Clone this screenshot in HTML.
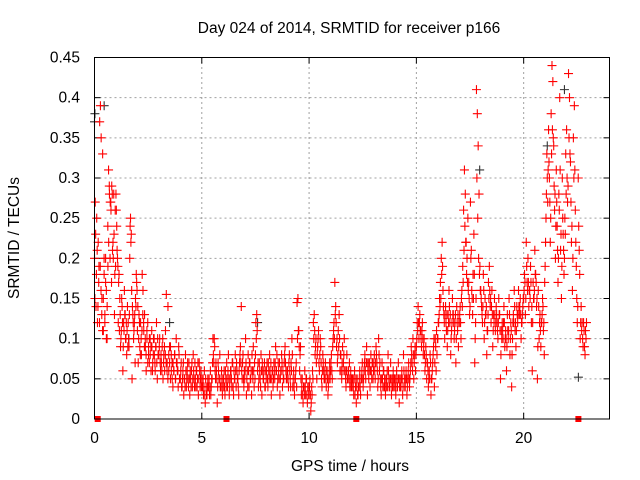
<!DOCTYPE html>
<html><head><meta charset="utf-8"><style>
body{margin:0;background:#fff}
svg{display:block;font-family:"Liberation Sans",sans-serif}
</style></head><body>
<svg id="chart" width="640" height="480">
<rect width="640" height="480" fill="#fff"/>
<text x="349" y="33" font-size="15.5" text-anchor="middle" fill="#000">Day 024 of 2014, SRMTID for receiver p166</text>
<text x="350" y="471" font-size="15.5" text-anchor="middle" fill="#000">GPS time / hours</text>
<text transform="translate(19,238) rotate(-90)" font-size="15.5" text-anchor="middle" fill="#000">SRMTID / TECUs</text>
<g id="grid"></g>
<g id="ticks"></g>
<g id="marks"></g>
<rect x="94.5" y="57.5" width="515" height="361.5" fill="none" stroke="#000" stroke-width="1"/>
</svg>
<script>
const xTicks=[0,5,10,15,20];
const yTicks=[0,0.05,0.1,0.15,0.2,0.25,0.3,0.35,0.4,0.45];
const yTickLabels=["0","0.05","0.1","0.15","0.2","0.25","0.3","0.35","0.4","0.45"];
const hourStarts=[0,1,2,3,4,5,6,7,8,9,10,11,12,13,14,15,16,17,18,19,20,21,22];
const h0=[0.2,0.27,0.14,0.25,0.12,0.22,0.19,0.37,0.39,0.35,0.15,0.33,0.11,0.18,0.13,0.2,0.16,0.1,0.24,0.31,0.29,0.2,0.27,0.17,0.28,0.22,0.28,0.13,0.26];
const h1=[0.28,0.24,0.2,0.12,0.18,0.15,0.09,0.11,0.14,0.06,0.12,0.16,0.13,0.1,0.08,0.14,0.12,0.09,0.2,0.25,0.23,0.05,0.13,0.1,0.12,0.07,0.14,0.17];
const h2=[0.11,0.07,0.13,0.09,0.12,0.08,0.18,0.16,0.11,0.13,0.09,0.06,0.1,0.12,0.08,0.07,0.1,0.09,0.11,0.06,0.08,0.1,0.07,0.09,0.12,0.05,0.08];
const h3=[0.08,0.1,0.06,0.07,0.09,0.05,0.08,0.06,0.11,0.155,0.07,0.14,0.06,0.09,0.05,0.08,0.07,0.04,0.06,0.08,0.05,0.1,0.07,0.06,0.09,0.05];
const h4=[0.05,0.07,0.04,0.06,0.03,0.05,0.08,0.04,0.06,0.05,0.07,0.03,0.05,0.06,0.04,0.08,0.05,0.07,0.04,0.06,0.05,0.03,0.07,0.04,0.06];
const h5=[0.05,0.04,0.03,0.06,0.02,0.04,0.03,0.05,0.04,0.03,0.06,0.04,0.05,0.1,0.07,0.09,0.05,0.06,0.02,0.07,0.05,0.08,0.04,0.06,0.03];
const h6=[0.04,0.06,0.03,0.05,0.07,0.04,0.08,0.03,0.05,0.06,0.04,0.07,0.03,0.05,0.08,0.04,0.06,0.05,0.03,0.07,0.09,0.14,0.05,0.08,0.04];
const h7=[0.05,0.1,0.03,0.06,0.08,0.04,0.07,0.05,0.03,0.06,0.09,0.04,0.05,0.12,0.13,0.06,0.04,0.07,0.05,0.08,0.03,0.06,0.05,0.07,0.04];
const h8=[0.05,0.07,0.04,0.06,0.08,0.05,0.03,0.06,0.04,0.07,0.05,0.09,0.06,0.04,0.07,0.05,0.03,0.06,0.08,0.04,0.05,0.07,0.09,0.06,0.05];
const h9=[0.06,0.04,0.08,0.05,0.07,0.1,0.04,0.06,0.03,0.05,0.07,0.145,0.15,0.11,0.06,0.09,0.03,0.05,0.02,0.04,0.06,0.03,0.05,0.02,0.04];
const h10=[0.03,0.05,0.01,0.04,0.06,0.12,0.13,0.08,0.1,0.05,0.09,0.11,0.06,0.1,0.07,0.04,0.08,0.06,0.05,0.07,0.04,0.06,0.03,0.05,0.07];
const h11=[0.06,0.08,0.05,0.1,0.12,0.17,0.14,0.09,0.07,0.11,0.13,0.06,0.08,0.05,0.09,0.07,0.1,0.06,0.04,0.08,0.05,0.06,0.07,0.05,0.04];
const h12=[0.04,0.05,0.03,0.06,0.04,0.02,0.05,0.03,0.04,0.06,0.03,0.05,0.07,0.04,0.06,0.08,0.05,0.09,0.03,0.07,0.06,0.04,0.08,0.05,0.07];
const h13=[0.06,0.08,0.05,0.09,0.07,0.04,0.1,0.06,0.05,0.03,0.07,0.04,0.06,0.05,0.03,0.04,0.06,0.08,0.05,0.04,0.07,0.03,0.05,0.06,0.04];
const h14=[0.05,0.03,0.06,0.04,0.07,0.02,0.05,0.04,0.06,0.03,0.08,0.05,0.04,0.06,0.03,0.05,0.07,0.04,0.06,0.09,0.07,0.1,0.05,0.08,0.06];
const h15=[0.09,0.12,0.14,0.1,0.13,0.11,0.09,0.12,0.08,0.1,0.06,0.09,0.05,0.07,0.04,0.06,0.08,0.03,0.05,0.07,0.09,0.04,0.1,0.06,0.08];
const h16=[0.1,0.12,0.15,0.17,0.2,0.22,0.16,0.13,0.1,0.14,0.11,0.09,0.13,0.16,0.12,0.08,0.11,0.15,0.13,0.1,0.12,0.07,0.14,0.11,0.09];
const h17=[0.12,0.14,0.1,0.16,0.19,0.26,0.31,0.28,0.22,0.2,0.25,0.17,0.13,0.27,0.21,0.15,0.18,0.23,0.07,0.12,0.41,0.38,0.34,0.28,0.19];
const h18=[0.16,0.14,0.12,0.18,0.1,0.15,0.13,0.08,0.11,0.17,0.19,0.14,0.12,0.16,0.09,0.13,0.15,0.11,0.14,0.12,0.1,0.15,0.13,0.05,0.11];
const h19=[0.12,0.1,0.14,0.09,0.11,0.06,0.13,0.1,0.15,0.08,0.12,0.04,0.1,0.13,0.16,0.11,0.09,0.14,0.12,0.16,0.13,0.15,0.1,0.12,0.14];
const h20=[0.15,0.18,0.13,0.22,0.17,0.2,0.14,0.16,0.19,0.12,0.06,0.17,0.15,0.21,0.18,0.14,0.05,0.16,0.1,0.13,0.09,0.12,0.15,0.11,0.08];
const h21=[0.19,0.25,0.33,0.27,0.36,0.3,0.22,0.38,0.44,0.42,0.34,0.26,0.2,0.31,0.24,0.17,0.28,0.4,0.21,0.15,0.3,0.23,0.18,0.25,0.33];
const h22=[0.36,0.27,0.43,0.4,0.32,0.22,0.16,0.35,0.39,0.26,0.19,0.12,0.3,0.21,0.1,0.14,0.12,0.09,0.11,0.08,0.1];
// second pass of samples (offset half-step in time)
const b0=[0.15,0.23,0.18,0.21,0.14,0.17,0.12,0.19,0.16,0.13,0.11,0.15,0.2,0.12,0.17,0.1,0.14,0.19,0.22,0.28,0.27,0.26,0.29,0.21,0.2,0.23,0.18,0.19];
const b1=[0.26,0.21,0.19,0.17,0.11,0.13,0.1,0.15,0.12,0.09,0.11,0.13,0.1,0.12,0.11,0.09,0.1,0.13,0.24,0.22,0.16,0.14,0.12,0.11,0.13,0.15,0.18,0.16];
const b2=[0.14,0.1,0.12,0.08,0.1,0.11,0.13,0.12,0.09,0.1,0.08,0.11,0.07,0.09,0.1,0.08,0.06,0.09,0.07,0.1,0.08,0.06,0.09,0.07,0.1,0.08];
const b3=[0.09,0.07,0.08,0.06,0.1,0.07,0.09,0.08,0.07,0.06,0.05,0.08,0.07,0.09,0.06,0.05,0.07,0.06,0.08,0.05,0.07,0.06,0.04,0.08,0.05];
const b4=[0.06,0.04,0.05,0.07,0.05,0.04,0.06,0.05,0.07,0.04,0.05,0.06,0.04,0.07,0.05,0.06,0.04,0.05,0.06,0.04,0.07,0.05,0.06,0.05,0.04];
const b5=[0.04,0.05,0.04,0.03,0.05,0.03,0.04,0.04,0.05,0.04,0.03,0.05,0.07,0.08,0.1,0.06,0.07,0.05,0.04,0.06,0.05,0.04,0.05,0.04,0.05];
const b6=[0.05,0.04,0.06,0.04,0.05,0.06,0.05,0.04,0.06,0.05,0.07,0.04,0.06,0.05,0.06,0.07,0.05,0.04,0.06,0.08,0.07,0.06,0.07,0.05,0.06];
const b7=[0.06,0.07,0.05,0.04,0.06,0.07,0.05,0.06,0.08,0.05,0.06,0.07,0.08,0.1,0.11,0.07,0.05,0.06,0.04,0.06,0.07,0.05,0.06,0.04,0.06];
const b8=[0.06,0.05,0.07,0.05,0.06,0.07,0.05,0.06,0.05,0.06,0.07,0.06,0.08,0.05,0.06,0.07,0.05,0.06,0.07,0.06,0.05,0.08,0.07,0.05,0.06];
const b9=[0.05,0.07,0.06,0.04,0.06,0.08,0.05,0.04,0.05,0.06,0.04,0.1,0.11,0.09,0.08,0.05,0.04,0.03,0.04,0.03,0.04,0.05,0.03,0.04,0.03];
const b10=[0.04,0.03,0.02,0.03,0.05,0.1,0.11,0.09,0.07,0.08,0.1,0.07,0.08,0.09,0.05,0.06,0.07,0.05,0.06,0.05,0.06,0.05,0.04,0.06,0.05];
const b11=[0.07,0.06,0.09,0.11,0.1,0.13,0.12,0.1,0.08,0.09,0.1,0.08,0.06,0.07,0.06,0.08,0.06,0.05,0.06,0.05,0.06,0.05,0.04,0.06,0.05];
const b12=[0.05,0.04,0.05,0.03,0.05,0.04,0.03,0.04,0.05,0.04,0.05,0.06,0.05,0.05,0.07,0.06,0.07,0.07,0.06,0.05,0.07,0.06,0.06,0.07,0.05];
const b13=[0.07,0.06,0.07,0.08,0.06,0.05,0.08,0.07,0.04,0.05,0.05,0.06,0.04,0.04,0.05,0.05,0.04,0.06,0.04,0.05,0.05,0.04,0.04,0.05,0.05];
const b14=[0.04,0.05,0.04,0.05,0.05,0.04,0.04,0.05,0.05,0.04,0.06,0.04,0.05,0.05,0.04,0.06,0.05,0.05,0.07,0.08,0.06,0.08,0.07,0.09,0.08];
const b15=[0.1,0.11,0.12,0.12,0.11,0.1,0.11,0.1,0.09,0.08,0.07,0.08,0.07,0.06,0.05,0.05,0.07,0.05,0.06,0.08,0.1,0.07,0.09,0.11,0.1];
const b16=[0.12,0.13,0.14,0.15,0.18,0.19,0.14,0.12,0.13,0.12,0.13,0.11,0.12,0.14,0.13,0.1,0.12,0.13,0.12,0.11,0.13,0.1,0.12,0.13,0.12];
const b17=[0.13,0.12,0.15,0.14,0.17,0.21,0.24,0.22,0.18,0.17,0.16,0.15,0.14,0.2,0.16,0.13,0.15,0.18,0.1,0.15,0.3,0.25,0.2,0.18,0.16];
const b18=[0.15,0.13,0.14,0.16,0.12,0.13,0.14,0.11,0.13,0.15,0.16,0.15,0.14,0.13,0.11,0.12,0.13,0.12,0.13,0.11,0.12,0.13,0.11,0.08,0.1];
const b19=[0.11,0.12,0.12,0.1,0.1,0.09,0.11,0.11,0.13,0.1,0.11,0.08,0.12,0.12,0.14,0.12,0.11,0.13,0.13,0.14,0.14,0.13,0.12,0.13,0.15];
const b20=[0.16,0.17,0.15,0.19,0.16,0.17,0.16,0.15,0.17,0.14,0.12,0.15,0.16,0.18,0.17,0.15,0.09,0.14,0.12,0.11,0.12,0.13,0.14,0.12,0.17];
const b21=[0.22,0.28,0.3,0.31,0.32,0.27,0.25,0.33,0.36,0.35,0.29,0.28,0.24,0.27,0.21,0.2,0.26,0.31,0.23,0.19,0.25,0.21,0.2,0.23,0.28];
const b22=[0.3,0.29,0.35,0.33,0.27,0.24,0.2,0.3,0.31,0.22,0.15,0.14,0.24,0.18,0.12,0.11,0.1,0.12,0.09,0.11,0.12];
const hourValues=[h0,h1,h2,h3,h4,h5,h6,h7,h8,h9,h10,h11,h12,h13,h14,h15,h16,h17,h18,h19,h20,h21,h22];
const hourValuesB=[b0,b1,b2,b3,b4,b5,b6,b7,b8,b9,b10,b11,b12,b13,b14,b15,b16,b17,b18,b19,b20,b21,b22];
const hourSpan=[1,1,1,1,1,1,1,1,1,1,1,1,1,1,1,1,1,1,1,1,1,1,0.95];
const greyTimes=[0.0,0.02,0.45,21.9,22.55,17.95,21.1,1.6,3.5,7.6];
const greyValues=[0.37,0.38,0.39,0.41,0.052,0.31,0.34,0.1,0.12,0.12];
const gapTimes=[0.15,6.15,12.2,22.55];

const X0=94.5,X1=609.5,Y0=419,Y1=57.5,XMAX=24,YMAX=0.45;
const xs=t=>X0+(X1-X0)*t/XMAX;
const ys=v=>Y0-(Y0-Y1)*v/YMAX;
const NS="http://www.w3.org/2000/svg";
function mk(tag,attrs,parent){const e=document.createElementNS(NS,tag);for(const k in attrs)e.setAttribute(k,attrs[k]);parent.appendChild(e);return e;}
const grid=document.getElementById('grid'),ticks=document.getElementById('ticks'),marks=document.getElementById('marks');
xTicks.forEach(t=>{
  const x=xs(t);
  if(t>0){const g=mk('line',{x1:x,x2:x,y1:Y0,y2:Y1,stroke:'#a0a0a0','stroke-dasharray':'2,3'},grid);
  
  }
  mk('line',{x1:x,x2:x,y1:Y0,y2:Y0-6,stroke:'#000'},ticks);
  mk('line',{x1:x,x2:x,y1:Y1,y2:Y1+6,stroke:'#000'},ticks);
  const l=mk('text',{x:x,y:443,'font-size':15.5,'text-anchor':'middle'},ticks);
  l.textContent=String(t);
  
  
});
yTicks.forEach((v,i)=>{
  const y=ys(v);
  if(v>0&&v<0.45){const g=mk('line',{x1:X0,x2:X1,y1:y,y2:y,stroke:'#a0a0a0','stroke-dasharray':'2,3'},grid);
  
  }
  mk('line',{x1:X0,x2:X0+6,y1:y,y2:y,stroke:'#000'},ticks);
  mk('line',{x1:X1,x2:X1-6,y1:y,y2:y,stroke:'#000'},ticks);
  const l=mk('text',{x:80,y:y+5,'font-size':15.5,'text-anchor':'end'},ticks);
  l.textContent=yTickLabels[i];
  
  
});
function plus(t,v,col,name){
  const x=xs(t),y=ys(v);
  const p=mk('path',{d:`M${x-4.5} ${y}h9M${x} ${y-4.5}v9`,stroke:col,'stroke-width':1.1,fill:'none'},marks);
  
  
}
greyTimes.forEach((t,i)=>plus(t,greyValues[i],'#333','grey-point'));
hourValues.forEach((arr,h)=>{
  arr.forEach((v,i)=>{plus(hourStarts[h]+hourSpan[h]*i/arr.length,v,'#ff0000','srmtid-point');});
});
hourValuesB.forEach((arr,h)=>{
  arr.forEach((v,i)=>{plus(hourStarts[h]+hourSpan[h]*(i+0.5)/arr.length,v,'#ff0000','srmtid-point');});
});
gapTimes.forEach(t=>{
  const r=mk('rect',{x:xs(t)-3,y:Y0-3,width:6,height:6,fill:'#ff0000'},marks);
  
  
});
</script>
</body></html>
